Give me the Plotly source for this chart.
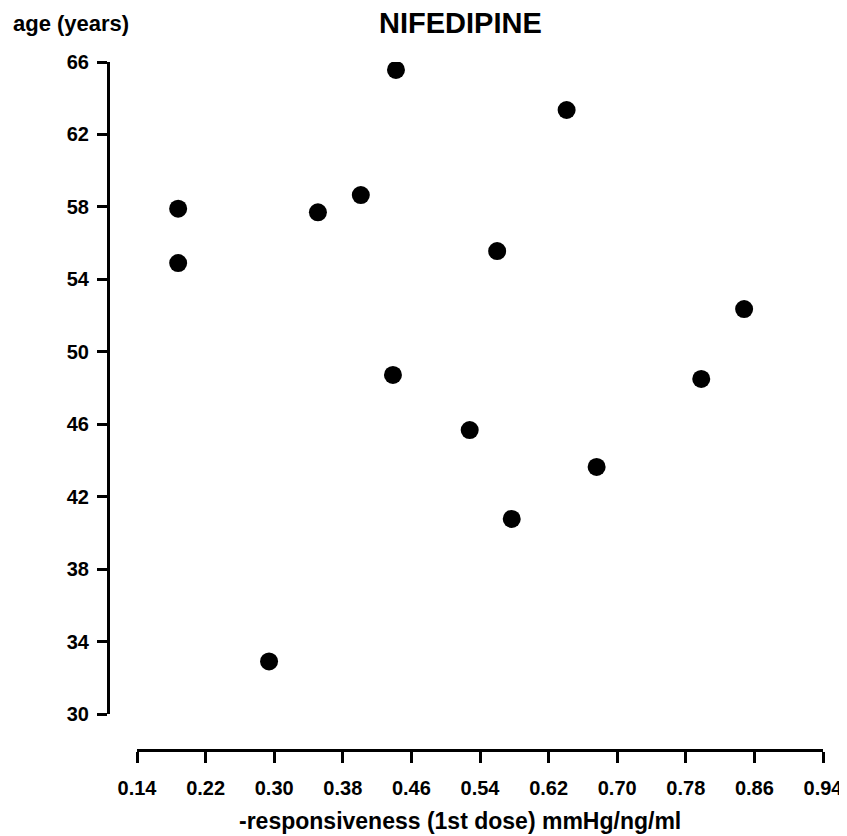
import plotly.graph_objects as go

# Data
responsiveness = [0.188, 0.188, 0.294, 0.351, 0.401, 0.442, 0.4385, 0.528, 0.560, 0.577, 0.641, 0.676, 0.798, 0.848]
age_years = [57.9, 54.9, 32.9, 57.7, 58.65, 65.56, 48.72, 45.68, 55.56, 40.77, 63.35, 43.64, 48.5, 52.36]

x_ticks = [0.14, 0.22, 0.30, 0.38, 0.46, 0.54, 0.62, 0.70, 0.78, 0.86, 0.94]
x_tick_labels = ["0.14", "0.22", "0.30", "0.38", "0.46", "0.54", "0.62", "0.70", "0.78", "0.86", "0.94"]
y_ticks = [30, 34, 38, 42, 46, 50, 54, 58, 62, 66]
y_tick_labels = [str(v) for v in y_ticks]

# The page body has an 8px margin; size the figure to fit the window and
# convert reference-window pixels into paper fractions.
OFF = 8
W, H = 847 - OFF, 836 - OFF
FONT = "Liberation Sans, Arial, sans-serif"


def px(x):
    return (x - OFF) / W


def py(y):
    return 1 - (y - OFF) / H


fig = go.Figure(
    go.Scatter(
        x=responsiveness,
        y=age_years,
        mode="markers",
        marker=dict(size=18, color="black"),
        showlegend=False,
    )
)

fig.update_layout(
    width=W,
    height=H,
    margin=dict(l=0, r=0, t=0, b=0),
    paper_bgcolor="white",
    plot_bgcolor="white",
    font=dict(family=FONT, color="black", size=20, weight="bold"),
    xaxis=dict(
        domain=[px(137), px(823)],
        range=[0.14, 0.94],
        anchor="free",
        position=py(750),
        tickmode="array",
        tickvals=x_ticks,
        ticktext=x_tick_labels,
        showline=True,
        linecolor="black",
        linewidth=3,
        ticks="outside",
        ticklen=11,
        tickwidth=3,
        tickcolor="black",
        showgrid=False,
        zeroline=False,
        automargin=False,
        ticklabelstandoff=8,
        tickfont=dict(family=FONT, size=20, color="black", weight="bold"),
    ),
    yaxis=dict(
        domain=[py(714), py(62)],
        range=[30, 66],
        anchor="free",
        position=px(108),
        tickmode="array",
        tickvals=y_ticks,
        ticktext=y_tick_labels,
        showline=True,
        linecolor="black",
        linewidth=3,
        ticks="outside",
        ticklen=10,
        tickwidth=3,
        tickcolor="black",
        showgrid=False,
        zeroline=False,
        automargin=False,
        ticklabelstandoff=4,
        tickfont=dict(family=FONT, size=20, color="black", weight="bold"),
    ),
    annotations=[
        dict(text="NIFEDIPINE", x=px(460), y=py(23), xref="paper", yref="paper",
             showarrow=False, xanchor="center", yanchor="middle",
             font=dict(family=FONT, size=29, color="black", weight="bold")),
        dict(text="age (years)", x=px(11), y=py(24), xref="paper", yref="paper",
             showarrow=False, xanchor="left", yanchor="middle",
             font=dict(family=FONT, size=22, color="black", weight="bold")),
        dict(text="-responsiveness (1st dose) mmHg/ng/ml", x=px(460), y=py(821),
             xref="paper", yref="paper", showarrow=False, xanchor="center", yanchor="middle",
             font=dict(family=FONT, size=23, color="black", weight="bold")),
    ],
)

fig.write_html("out.html")
